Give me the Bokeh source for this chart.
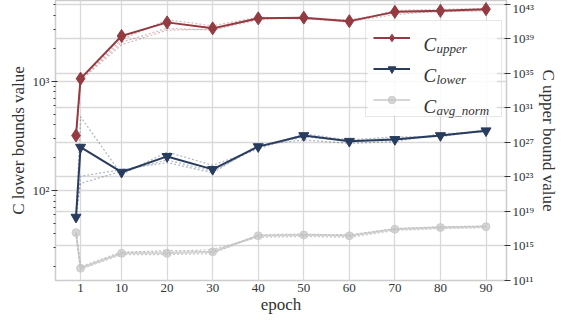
from bokeh.plotting import figure
from bokeh.models import (Range1d, LogScale, LogAxis, FixedTicker, Grid, Legend,
                          LegendItem, Label, CustomJSTickFormatter, BoxAnnotation)
from bokeh.embed import file_html
from bokeh.resources import INLINE

# ---- data ----
epochs = [0, 1, 10, 20, 30, 40, 50, 60, 70, 80, 90]
x_ticks = [1, 10, 20, 30, 40, 50, 60, 70, 80, 90]

# left axis (C lower bound)
c_lower = [57, 249, 147, 205, 156, 252, 318, 282, 293, 318, 352]
c_lower_runs = [
    [57, 473, 140, 225, 170, 240, 330, 290, 310, 310, 360],
    [57, 135, 155, 180, 145, 260, 290, 270, 280, 330, 345],
    [57, 116, 150, 190, 150, 250, 310, 285, 300, 320, 350],
]

# right axis (C upper bound)
c_upper = [6.2e27, 2.4e34, 2.1e39, 7.9e40, 1.6e40, 2.3e41, 2.8e41, 1.1e41, 1.3e42, 1.7e42, 2.7e42]
c_upper_runs = [
    [6.2e27, 2.5e34, 7.9e38, 1.6e41, 3.2e40, 3.2e41, 2.0e41, 1.6e41, 1.0e42, 1.3e42, 2.0e42],
    [6.2e27, 2.0e34, 4.0e38, 1.6e40, 1.0e40, 1.6e41, 3.2e41, 7.9e40, 2.0e42, 2.5e42, 3.2e42],
    [6.2e27, 1.6e34, 2.0e38, 1.0e40, 1.3e40, 2.5e41, 2.0e41, 1.0e41, 6.3e41, 1.6e42, 1.6e42],
]
c_avg = [3.5e16, 2.6e12, 1.4e14, 1.4e14, 2.1e14, 1.5e16, 1.9e16, 1.5e16, 8.7e16, 1.35e17, 1.7e17]
c_avg_runs = [
    [3.5e16, 4.0e12, 2.0e14, 2.0e14, 4.0e14, 1.0e16, 1.3e16, 1.0e16, 6.3e16, 1.0e17, 1.3e17],
    [3.5e16, 2.0e12, 1.0e14, 1.0e14, 1.3e14, 2.0e16, 2.5e16, 1.6e16, 1.0e17, 1.6e17, 2.0e17],
    [3.5e16, 3.2e12, 1.6e14, 3.2e14, 2.0e14, 1.6e16, 2.0e16, 2.0e16, 1.0e17, 1.6e17, 2.0e17],
]

left_ticks = [100, 1000]
left_minor = [20, 30, 40, 50, 60, 70, 80, 90, 200, 300, 400, 500, 600, 700, 800, 900,
              2000, 3000, 4000, 5000]
right_ticks = [1e11, 1e15, 1e19, 1e23, 1e27, 1e31, 1e35, 1e39, 1e43]

FONT = "Liberation Serif"
RED = "#943a41"
NAVY = "#283c5e"
GRAY = "#c4c4c4"
GRID = "#d9d9d9"
TXT = "#333333"

p = figure(width=560, height=316, output_backend="svg", toolbar_location=None,
           x_range=Range1d(-4.5, 94.5), y_range=Range1d(15, 5480), y_axis_type="log",
           min_border_left=55, min_border_right=52, min_border_top=0, min_border_bottom=30)
p.extra_y_ranges = {"right": Range1d(1e11, 2.7e43)}
p.extra_y_scales = {"right": LogScale()}
p.background_fill_color = "white"
p.border_fill_color = "white"
p.outline_line_color = "#cccccc"
p.outline_line_width = 1.5

sup_js = """
const sup = {"0":"\u2070","1":"\u00b9","2":"\u00b2","3":"\u00b3","4":"\u2074","5":"\u2075",
             "6":"\u2076","7":"\u2077","8":"\u2078","9":"\u2079","-":"\u207b"};
const e = Math.round(Math.log10(tick));
return "10" + String(e).split("").map(c => sup[c]).join("");
"""

# x axis
xa = p.xaxis[0]
xa.ticker = FixedTicker(ticks=x_ticks)
xa.axis_label = "epoch"
xa.major_tick_out = 0
xa.major_tick_in = 0
xa.minor_tick_out = 0
xa.axis_line_color = None

# left axis
ya = p.yaxis[0]
ya.ticker = FixedTicker(ticks=left_ticks, minor_ticks=left_minor)
ya.formatter = CustomJSTickFormatter(code=sup_js)
ya.axis_label = "C lower bounds value"
ya.major_tick_out = 4
ya.minor_tick_out = 2
ya.axis_line_color = None

# right axis
ra = LogAxis(y_range_name="right", axis_label="C upper bound value")
ra.ticker = FixedTicker(ticks=right_ticks, minor_ticks=[])
ra.formatter = CustomJSTickFormatter(code=sup_js)
ra.major_tick_out = 4
ra.minor_tick_out = 0
ra.axis_line_color = None
p.add_layout(ra, "right")

for ax in (xa, ya, ra):
    ax.major_label_text_font = FONT
    ax.major_label_text_font_size = "13px"
    ax.major_label_text_color = TXT
    ax.axis_label_text_font = FONT
    ax.axis_label_text_font_size = "17px"
    ax.axis_label_text_font_style = "normal"
    ax.axis_label_text_color = TXT
    ax.major_tick_line_color = TXT
    ax.minor_tick_line_color = TXT
    ax.major_label_standoff = 2
    ax.axis_label_standoff = 2
xa.major_label_standoff = 3
xa.axis_label_standoff = 0

p.xgrid.grid_line_color = GRID
p.xgrid.grid_line_width = 1.3
p.ygrid.grid_line_color = GRID
p.ygrid.grid_line_width = 1.3
rgrid = Grid(dimension=1, ticker=ra.ticker, y_range_name="right",
             grid_line_color=GRID, grid_line_width=1.3)
p.add_layout(rgrid)

# dotted per-run lines
for run in c_upper_runs:
    p.line(epochs, run, y_range_name="right", line_color=RED, line_alpha=0.35,
           line_width=1.3, line_dash="2 2")
for run in c_lower_runs:
    p.line(epochs, run, line_color=NAVY, line_alpha=0.35, line_width=1.3, line_dash="2 2")
for run in c_avg_runs:
    p.line(epochs, run, y_range_name="right", line_color="#999999", line_alpha=0.5,
           line_width=1.3, line_dash="2 2")

# main lines
avg_l = p.line(epochs, c_avg, y_range_name="right", line_color=GRAY, line_alpha=0.7, line_width=2)
avg_m = p.scatter(epochs, c_avg, y_range_name="right", marker="circle", size=8,
                  fill_color=GRAY, line_color=GRAY, alpha=0.7)
low_l = p.line(epochs, c_lower, line_color=NAVY, line_width=2)
low_m = p.scatter(epochs, c_lower, marker="inverted_triangle", size=10,
                  fill_color=NAVY, line_color=NAVY)
up_l = p.line(epochs, c_upper, y_range_name="right", line_color=RED, line_width=2)
up_m = p.scatter(epochs, c_upper, y_range_name="right", marker="diamond",
                 size=13, fill_color=RED, line_color=RED)

# legend background box (placed in the left-axis coordinate system)
box = BoxAnnotation(left=64.0, right=92.4, bottom=480, top=3600,
                    fill_color="white", fill_alpha=0.85, line_color=None)
p.add_layout(box)

legend = Legend(items=[LegendItem(label=" ", renderers=[up_l, up_m]),
                       LegendItem(label=" ", renderers=[low_l, low_m]),
                       LegendItem(label=" ", renderers=[avg_l, avg_m])],
                location=(310, 163), orientation="vertical",
                glyph_width=37, glyph_height=19, label_height=19, label_width=79,
                label_standoff=5, spacing=12, padding=7, margin=0,
                background_fill_alpha=0, border_line_color="#d0d0d0",
                label_text_font_size="10px")
p.add_layout(legend, "center")

leg_c = [("upper", 236), ("lower", 205), ("avg_norm", 174)]
for sub, yb in leg_c:
    p.add_layout(Label(x=368, y=yb, x_units="screen", y_units="screen", text="C",
                       text_font=FONT, text_font_style="italic", text_font_size="19px",
                       text_color=TXT, text_baseline="alphabetic"))
    p.add_layout(Label(x=381, y=yb - 4, x_units="screen", y_units="screen", text=sub,
                       text_font=FONT, text_font_style="italic", text_font_size="13px",
                       text_color=TXT, text_baseline="alphabetic"))

open("out.html", "w").write(file_html(p, INLINE))
